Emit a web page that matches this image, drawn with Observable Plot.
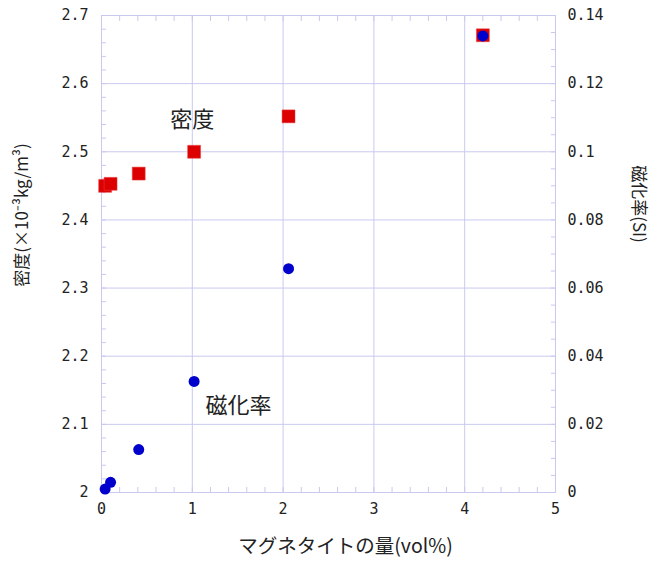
<!DOCTYPE html>
<html><head><meta charset="utf-8">
<script src="https://cdn.jsdelivr.net/npm/d3@7"></script>
<script src="https://cdn.jsdelivr.net/npm/@observablehq/plot@0.6"></script>
<style>
body{margin:0;background:#fff;}
#wrap{position:relative;width:660px;height:561px;}
#wrap svg{position:absolute;left:0;top:0;}
</style></head><body><div id="wrap"></div>
<script>
// Data
const magnetite = [0.04, 0.1, 0.41, 1.02, 2.06, 4.2];            // vol%
const density = [2.450, 2.453, 2.468, 2.500, 2.552, 2.671];       // ×10^-3 kg/m^3
const susceptibility = [0.001, 0.003, 0.0126, 0.0326, 0.0657, 0.134]; // SI

// Tick labels
const xTicks = [0, 1, 2, 3, 4, 5];
const densityTicks = [2, 2.1, 2.2, 2.3, 2.4, 2.5, 2.6, 2.7];
const suscTicks = [0, 0.02, 0.04, 0.06, 0.08, 0.1, 0.12, 0.14];
const xMinor = d3.range(0, 5.0001, 0.2);
const densityMinor = d3.range(2, 2.7001, 0.02);
const suscMinor = d3.range(0, 0.14001, 0.005);

// Texts
const xLabel = "マグネタイトの量(vol%)";
const leftLabel = "密度(×10⁻³kg/m³)";
const rightLabel = "磁化率(SI)";
const densityName = "密度";
const suscName = "磁化率";

const W = 660, H = 561;
const margins = {marginLeft: 101, marginRight: 105, marginTop: 15, marginBottom: 69};
const gridColor = "#c9c9f0";
const red = "#dd0000", blue = "#0000cc";
const jp = "Noto Sans CJK JP";
const fmt = d => String(+d.toFixed(3));

const rows = magnetite.map((m, i) => ({m, density: density[i], susc: susceptibility[i]}));

const p1 = Plot.plot({
  width: W, height: H, ...margins,
  style: {fontFamily: "DejaVu Sans Mono", fontSize: "15px", background: "transparent", color: "#222"},
  x: {domain: [0, 5]},
  y: {domain: [2, 2.7]},
  marks: [
    Plot.gridX([1, 2, 3, 4], {stroke: gridColor, strokeOpacity: 1}),
    Plot.gridY(densityTicks.slice(1, -1), {stroke: gridColor, strokeOpacity: 1}),
    Plot.frame({stroke: gridColor}),
    Plot.axisX(xMinor, {anchor: "bottom", tickSize: -5, tickFormat: () => "", label: null, stroke: gridColor}),
    Plot.axisX(xMinor, {anchor: "top", tickSize: -5, tickFormat: () => "", label: null, stroke: gridColor}),
    Plot.axisY(densityMinor, {anchor: "left", tickSize: -5, tickFormat: () => "", label: null, stroke: gridColor}),
    Plot.axisX(xTicks, {anchor: "bottom", tickSize: 0, tickPadding: 11, tickFormat: fmt, label: null}),
    Plot.axisY(densityTicks, {anchor: "left", tickSize: 0, tickPadding: 13, tickFormat: fmt, label: null}),
    Plot.text([xLabel], {frameAnchor: "bottom", textAnchor: "middle", lineAnchor: "middle", dx: 17, dy: 54, fontFamily: jp, fontSize: 19.5, fill: "#222"}),
    Plot.text([leftLabel], {frameAnchor: "left", textAnchor: "middle", lineAnchor: "middle", rotate: -90, dx: -79, dy: -39, fontFamily: jp, fontSize: 17, fill: "#222"}),
    Plot.dot(rows, {x: "m", y: "density", symbol: "square", r: 7.3, fill: red, stroke: "#e84040", strokeWidth: 0.5}),
    Plot.text([densityName], {x: 1.0, y: 2.546, fontFamily: jp, fontSize: 22, fill: "#222"})
  ]
});

const p2 = Plot.plot({
  width: W, height: H, ...margins,
  style: {fontFamily: "DejaVu Sans Mono", fontSize: "15px", background: "transparent", color: "#222"},
  x: {domain: [0, 5], axis: null},
  y: {domain: [0, 0.14]},
  marks: [
    Plot.axisY(suscMinor, {anchor: "right", tickSize: -5, tickFormat: () => "", label: null, stroke: gridColor}),
    Plot.axisY(suscTicks, {anchor: "right", tickSize: 0, tickPadding: 12, tickFormat: fmt, label: null}),
    Plot.text([rightLabel], {frameAnchor: "right", textAnchor: "middle", lineAnchor: "middle", rotate: 90, dx: 83, dy: -50, fontFamily: jp, fontSize: 17, fill: "#222"}),
    Plot.dot(rows, {x: "m", y: "susc", r: 5.5, fill: blue}),
    Plot.text([suscName], {x: 1.51, y: 0.0255, fontFamily: jp, fontSize: 22, fill: "#222"})
  ]
});

document.getElementById("wrap").append(p1, p2);
</script></body></html>
